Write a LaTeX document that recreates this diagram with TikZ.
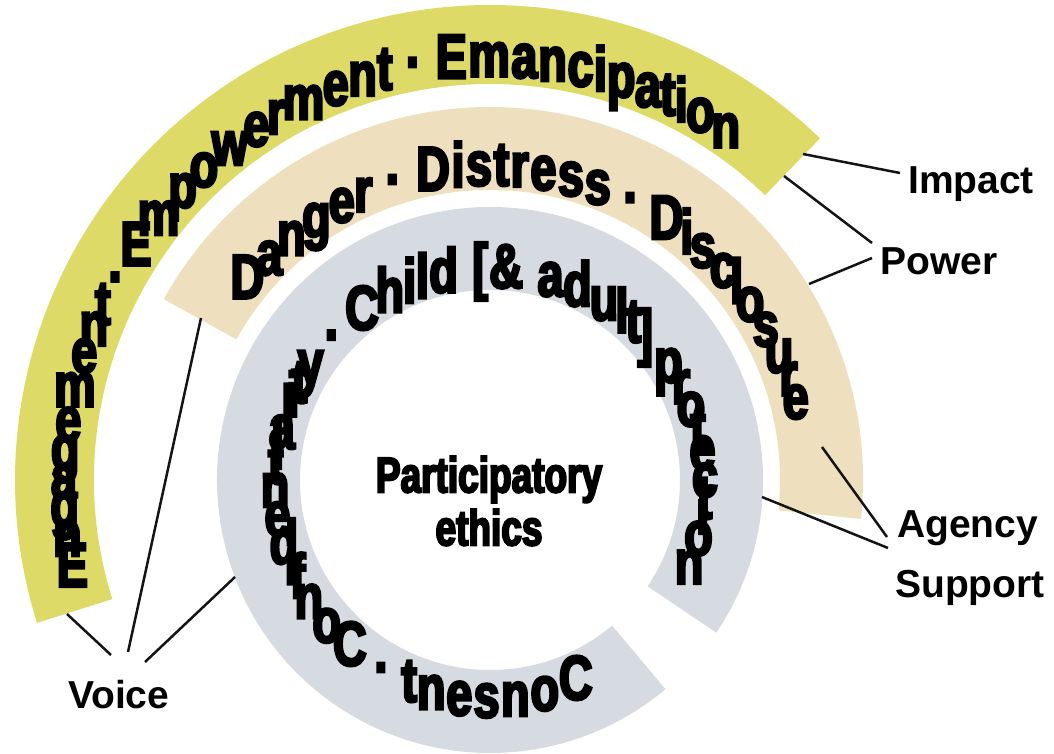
\documentclass[tikz,border=0pt]{standalone}
\usepackage{fontspec}
\setmainfont{Liberation Sans}
\newfontfamily\condfont{Liberation Sans}[FakeStretch=0.74, FakeBold=4]
\usetikzlibrary{decorations.text}
\definecolor{ringY}{RGB}{221,218,104}
\definecolor{ringB}{RGB}{238,224,190}
\definecolor{ringG}{RGB}{214,219,226}
\definecolor{ink}{RGB}{20,20,20}
\tikzset{
  band letters/.style={font=\condfont\bfseries\fontsize{63}{63}\selectfont, inner sep=0pt, anchor=center, text height=45pt, text depth=0pt},
  tag/.style={font=\bfseries\fontsize{39}{39}\selectfont, inner sep=0pt, anchor=base west},
  connector/.style={draw=ink, line width=2.5pt},
}
\begin{document}
\begin{tikzpicture}[x=1pt,y=1pt]
\useasboundingbox (0,0) rectangle (1054,753);
\begin{scope}[shift={(490,273)}]
  % bands
  \fill[ringY] (46:475) arc[start angle=46,end angle=197.5,radius=475]
     -- (197.5:396) arc[start angle=197.5,end angle=46,radius=396] -- cycle;
  \fill[ringB] (-6:373) arc[start angle=-6,end angle=151,radius=373]
     -- (151:290) arc[start angle=151,end angle=-6,radius=290] -- cycle;
  \fill[ringG] (-34:273) arc[start angle=-34,end angle=310,radius=273]
     -- (310:190) arc[start angle=310,end angle=-34,radius=190] -- cycle;
  % band texts
  \path[decorate, decoration={text effects along path,
      text={Engagement · Empowerment · Emancipation},
      text effects/.cd, fit text to path, every character/.append style={band letters}}]
    (193.5:426) arc[start angle=193.5,end angle=54.5,radius=426];
  \path[decorate, decoration={text effects along path,
      text={Danger · Distress · Disclosure},
      text effects/.cd, fit text to path, every character/.append style={band letters}}]
    (143:317) arc[start angle=143,end angle=13,radius=317];
  \path[decorate, decoration={text effects along path,
      text={Consent · Confidentiality · Child [{\&} adult] protection},
      text effects/.cd, fit text to path, every character/.append style={band letters}}]
    (298:215) arc[start angle=298,end angle=-26,radius=215];
  % connector anchors on the bands
  \coordinate (yImpact) at (313,326);
  \coordinate (yPower) at (294,304);
  \coordinate (bPower) at (319,196);
  \coordinate (bAgency) at (332,33);
  \coordinate (gSupport) at (272,-17);
  \coordinate (yVoice) at (-423,-134);
  \coordinate (bVoice) at (-289,162);
  \coordinate (gVoice) at (-255,-97);
\end{scope}
\node[font=\condfont\bfseries\fontsize{50}{53}\selectfont, align=center, inner sep=0pt] (centre) at (489,252) {Participatory\\ethics};
% labels
\node[tag] (impact) at (908,559) {Impact};
\node[tag] (power) at (880,478) {Power};
\node[tag] (agency) at (897,216) {Agency};
\node[tag] (support) at (895,156) {Support};
\node[tag] (voice) at (68,45) {Voice};
% label-side ends
\coordinate (impactEnd) at (900,580);
\coordinate (powerEndA) at (872,510);
\coordinate (powerEndB) at (872,495);
\coordinate (agencyEnd) at (887,216);
\coordinate (supportEnd) at (888,205);
\coordinate (voiceEndA) at (111,98);
\coordinate (voiceEndB) at (128,101);
\coordinate (voiceEndC) at (145,91);
\draw[connector] (yImpact) -- (impactEnd);
\draw[connector] (yPower) -- (powerEndA);
\draw[connector] (bPower) -- (powerEndB);
\draw[connector] (bAgency) -- (agencyEnd);
\draw[connector] (gSupport) -- (supportEnd);
\draw[connector] (yVoice) -- (voiceEndA);
\draw[connector] (bVoice) -- (voiceEndB);
\draw[connector] (gVoice) -- (voiceEndC);
\end{tikzpicture}
\end{document}
